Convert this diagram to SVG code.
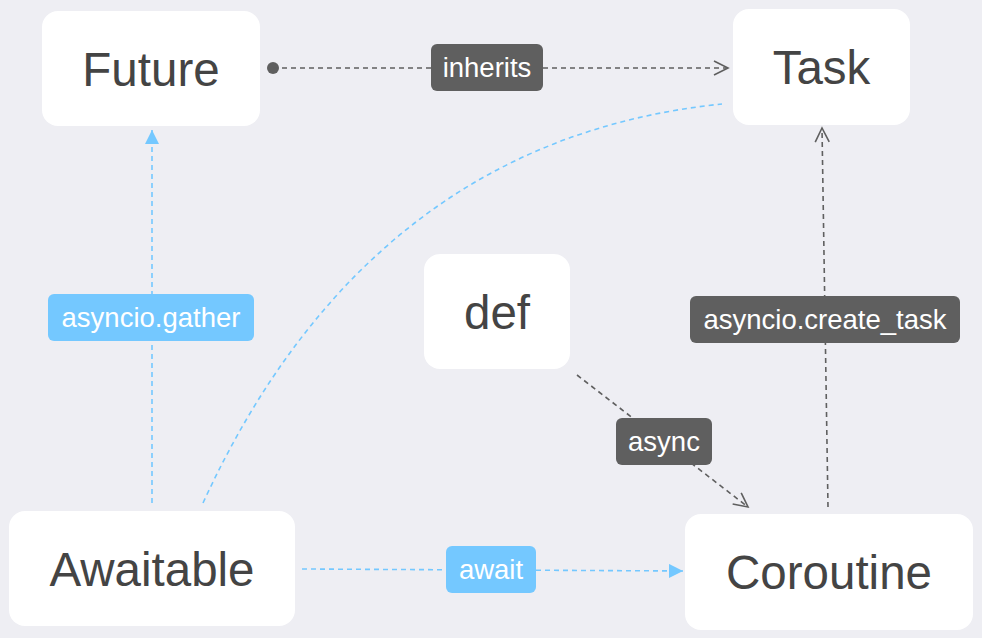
<svg xmlns="http://www.w3.org/2000/svg" width="982" height="638" viewBox="0 0 982 638">
<style>
.node{fill:#ffffff}
.nt{font-family:"Liberation Sans",Arial,sans-serif;font-size:47.5px;fill:#444444;text-anchor:middle;dominant-baseline:central}
.lt{font-family:"Liberation Sans",Arial,sans-serif;font-size:27.5px;fill:#ffffff;text-anchor:middle;dominant-baseline:central}
.dk{fill:#5f5f5f}
.bl{fill:#74c8ff}
.cd{fill:none;stroke:#5f5f5f;stroke-width:1.6;stroke-dasharray:5 4}
.cb{fill:none;stroke:#74c8ff;stroke-width:1.6;stroke-dasharray:5 4}
</style>
<defs>
<marker id="openA" markerWidth="20" markerHeight="20" refX="16" refY="8" orient="auto" markerUnits="userSpaceOnUse">
<path d="M2,1 L16,8 L2,15" fill="none" stroke="#5f5f5f" stroke-width="1.6"/>
</marker>
<marker id="triB" markerWidth="20" markerHeight="20" refX="14" refY="7" orient="auto" markerUnits="userSpaceOnUse">
<path d="M0,0 L14,7 L0,14 Z" fill="#74c8ff"/>
</marker>
</defs>
<rect width="982" height="638" fill="#eeeef3"/>
<g id="connectors">
<path class="cb" d="M203,503 Q370,140 722,104"/>
<circle cx="273" cy="68" r="6" fill="#5f5f5f"/>
<line class="cd" x1="273" y1="68" x2="728" y2="68" marker-end="url(#openA)"/>
<line class="cb" x1="152" y1="503" x2="152" y2="130" marker-end="url(#triB)"/>
<line class="cd" x1="828" y1="507" x2="822" y2="128" marker-end="url(#openA)"/>
<line class="cd" x1="577" y1="375" x2="748" y2="507" marker-end="url(#openA)"/>
<line class="cb" x1="302" y1="569" x2="683" y2="571" marker-end="url(#triB)"/>
</g>
<g id="labels">
<g id="l-inherits"><rect class="dk" x="431" y="44" width="112" height="47" rx="6"/><text class="lt" x="487" y="67.5">inherits</text></g>
<g id="l-gather"><rect class="bl" x="48" y="294" width="206" height="47" rx="6"/><text class="lt" x="151" y="317.5">asyncio.gather</text></g>
<g id="l-create"><rect class="dk" x="690" y="296" width="270" height="47" rx="6"/><text class="lt" x="825" y="319.5">asyncio.create_task</text></g>
<g id="l-async"><rect class="dk" x="616" y="418" width="96" height="47" rx="6"/><text class="lt" x="664" y="441.5">async</text></g>
<g id="l-await"><rect class="bl" x="446" y="546" width="90" height="47" rx="6"/><text class="lt" x="491" y="569.5">await</text></g>
</g>
<g id="Future"><rect class="node" x="42" y="11" width="218" height="115" rx="16"/><text class="nt" x="151" y="69">Future</text></g>
<g id="Task"><rect class="node" x="733" y="9" width="177" height="116" rx="16"/><text class="nt" x="821.5" y="67">Task</text></g>
<g id="def"><rect class="node" x="424" y="254" width="146" height="115" rx="16"/><text class="nt" x="497" y="312">def</text></g>
<g id="Awaitable"><rect class="node" x="9" y="511" width="286" height="115" rx="16"/><text class="nt" x="152" y="569">Awaitable</text></g>
<g id="Coroutine"><rect class="node" x="685" y="514" width="288" height="116" rx="16"/><text class="nt" x="829" y="572">Coroutine</text></g>
</svg>
